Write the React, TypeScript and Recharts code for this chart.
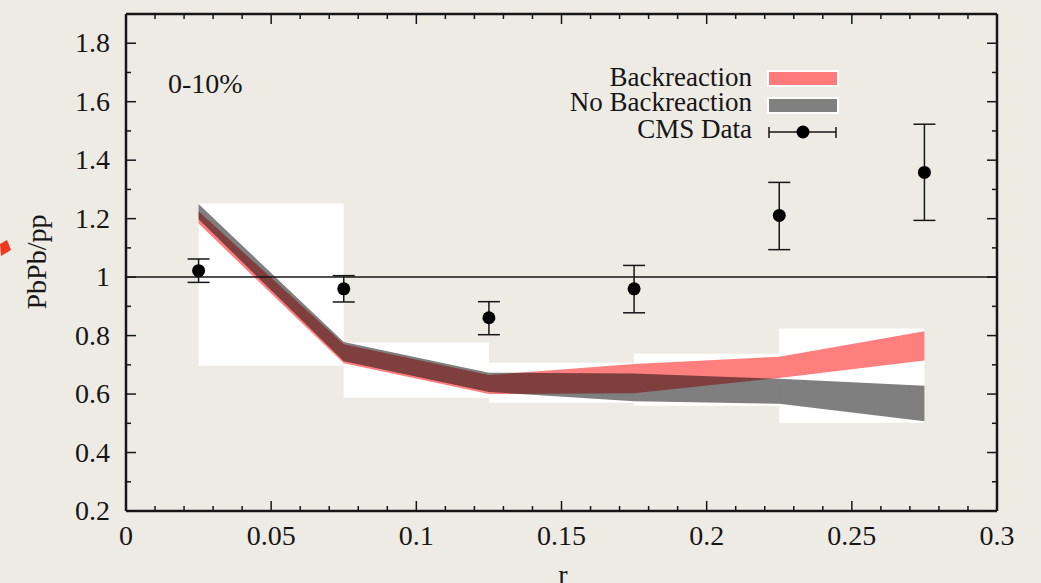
import React from "react";
import { Area, ComposedChart, ErrorBar, ReferenceArea, ReferenceLine, Scatter, XAxis, YAxis } from "recharts";

const radii = [0.025, 0.075, 0.125, 0.175, 0.225, 0.275];
const backLow = [1.183, 0.705, 0.6, 0.603, 0.655, 0.715];
const backHigh = [1.225, 0.77, 0.665, 0.703, 0.728, 0.815];
const noBackLow = [1.198, 0.712, 0.607, 0.575, 0.567, 0.507];
const noBackHigh = [1.25, 0.778, 0.673, 0.67, 0.652, 0.628];
const cmsValue = [1.022, 0.96, 0.861, 0.96, 1.211, 1.358];
const cmsErrDown = [0.04, 0.045, 0.058, 0.082, 0.117, 0.164];
const cmsErrUp = [0.04, 0.045, 0.055, 0.08, 0.113, 0.165];

const boxFrom = [0.025, 0.075, 0.125, 0.175, 0.225];
const boxTo = [0.075, 0.125, 0.175, 0.225, 0.275];
const boxLow = [0.697, 0.587, 0.57, 0.56, 0.502];
const boxHigh = [1.252, 0.776, 0.707, 0.738, 0.824];

const xTicks = [0, 0.01, 0.02, 0.03, 0.04, 0.05, 0.06, 0.07, 0.08, 0.09, 0.1, 0.11, 0.12, 0.13, 0.14, 0.15, 0.16, 0.17, 0.18, 0.19, 0.2, 0.21, 0.22, 0.23, 0.24, 0.25, 0.26, 0.27, 0.28, 0.29, 0.3];
const xLabels = ["0", "0.05", "0.1", "0.15", "0.2", "0.25", "0.3"];
const yTicks = [0.2, 0.3, 0.4, 0.5, 0.6, 0.7, 0.8, 0.9, 1, 1.1, 1.2, 1.3, 1.4, 1.5, 1.6, 1.7, 1.8, 1.9];
const yLabels = ["0.2", "0.4", "0.6", "0.8", "1", "1.2", "1.4", "1.6", "1.8"];

const data = radii.map((r, i) => ({
  r,
  back: [backLow[i], backHigh[i]],
  noBack: [noBackLow[i], noBackHigh[i]],
  cms: cmsValue[i],
  err: [cmsErrDown[i], cmsErrUp[i]],
}));

const W = 1041;
const H = 583;
const LEFT = 126;
const RIGHT = 997;
const TOP = 14;
const BOTTOM = 511;
const FONT = "'Liberation Serif', 'Times New Roman', serif";
const INK = "#161616";

const isMajorX = (v: number) => Math.round(v * 1000) % 50 === 0;
const isMajorY = (v: number) => Math.round(v * 100) % 20 === 0;
const label = (list: string[], v: number) => list.find((s) => Math.abs(parseFloat(s) - v) < 1e-6);

function BottomTick({ x, payload }: any) {
  const v = payload.value;
  const len = isMajorX(v) ? 10 : 5;
  const text = label(xLabels, v);
  return (
    <g>
      <line x1={x} x2={x} y1={BOTTOM} y2={BOTTOM - len} stroke={INK} strokeWidth={1.5} />
      {text ? (
        <text x={x} y={BOTTOM + 34} textAnchor="middle" fontFamily={FONT} fontSize={28} fill={INK}>
          {text}
        </text>
      ) : null}
    </g>
  );
}

function TopTick({ x, payload }: any) {
  const len = isMajorX(payload.value) ? 10 : 5;
  return <line x1={x} x2={x} y1={TOP} y2={TOP + len} stroke={INK} strokeWidth={1.5} />;
}

function LeftTick({ y, payload }: any) {
  const v = payload.value;
  const len = isMajorY(v) ? 10 : 5;
  const text = label(yLabels, v);
  return (
    <g>
      <line x1={LEFT} x2={LEFT + len} y1={y} y2={y} stroke={INK} strokeWidth={1.5} />
      {text ? (
        <text x={LEFT - 16} y={y + 9} textAnchor="end" fontFamily={FONT} fontSize={28} fill={INK}>
          {text}
        </text>
      ) : null}
    </g>
  );
}

function RightTick({ y, payload }: any) {
  const len = isMajorY(payload.value) ? 10 : 5;
  return <line x1={RIGHT} x2={RIGHT - len} y1={y} y2={y} stroke={INK} strokeWidth={1.5} />;
}

const Dot = (props: any) => <circle cx={props.cx} cy={props.cy} r={6.5} fill="#000" />;

export default function App() {
  return (
    <div style={{ position: "absolute", left: 0, top: 0, width: W, height: H, background: "#eeebe5", overflow: "hidden" }}>
      <ComposedChart width={W} height={H} data={data} margin={{ top: TOP - 1, right: W - RIGHT - 1, bottom: 0, left: 0 }}>
        <XAxis xAxisId="b" type="number" dataKey="r" domain={[0, 0.3]} ticks={xTicks} interval={0} height={H - BOTTOM} axisLine={{ stroke: INK, strokeWidth: 2.5 }} tickLine={false} tick={<BottomTick />} allowDataOverflow />
        <XAxis xAxisId="t" orientation="top" type="number" dataKey="r" domain={[0, 0.3]} ticks={xTicks} interval={0} height={1} axisLine={{ stroke: INK, strokeWidth: 2.5 }} tickLine={false} tick={<TopTick />} allowDataOverflow />
        <YAxis yAxisId="l" type="number" domain={[0.2, 1.9]} ticks={yTicks} interval={0} width={LEFT} axisLine={{ stroke: INK, strokeWidth: 2.5 }} tickLine={false} tick={<LeftTick />} allowDataOverflow />
        <YAxis yAxisId="r" orientation="right" type="number" domain={[0.2, 1.9]} ticks={yTicks} interval={0} width={1} axisLine={{ stroke: INK, strokeWidth: 2.5 }} tickLine={false} tick={<RightTick />} allowDataOverflow />
        {boxFrom.map((x1, i) => (
          <ReferenceArea key={i} xAxisId="b" yAxisId="l" x1={x1} x2={boxTo[i]} y1={boxLow[i]} y2={boxHigh[i]} fill="#ffffff" fillOpacity={1} stroke="none" />
        ))}
        <ReferenceLine xAxisId="b" yAxisId="l" y={1} stroke={INK} strokeWidth={1.5} />
        <Area xAxisId="b" yAxisId="l" type="linear" dataKey="back" fill="#ff0000" fillOpacity={0.5} stroke="none" isAnimationActive={false} />
        <Area xAxisId="b" yAxisId="l" type="linear" dataKey="noBack" fill="#000000" fillOpacity={0.5} stroke="none" isAnimationActive={false} />
        <Scatter xAxisId="b" yAxisId="l" dataKey="cms" shape={<Dot />} isAnimationActive={false}>
          <ErrorBar dataKey="err" direction="y" width={11} stroke={INK} strokeWidth={1.5} />
        </Scatter>
      </ComposedChart>
      <svg width={W} height={H} style={{ position: "absolute", left: 0, top: 0, pointerEvents: "none" }}>
        <polygon points="0,244 7,240 11,250 1,256" fill="#f0391c" />
        <text x={168} y={93} fontFamily={FONT} fontSize={28} fill={INK}>0-10%</text>
        <text transform="translate(46,262) rotate(-90)" textAnchor="middle" fontFamily={FONT} fontSize={28} fill={INK}>PbPb/pp</text>
        <text x={563} y={584} textAnchor="middle" fontFamily={FONT} fontSize={28} fill={INK}>r</text>
        <text x={752} y={86} textAnchor="end" fontFamily={FONT} fontSize={27} fill={INK}>Backreaction</text>
        <rect x={768} y={71} width={70} height={15} fill="#ff7b7b" stroke="#ffffff" strokeWidth={2} />
        <text x={752} y={111} textAnchor="end" fontFamily={FONT} fontSize={27} fill={INK}>No Backreaction</text>
        <rect x={768} y={98} width={70} height={15} fill="#808080" stroke="#ffffff" strokeWidth={2} />
        <text x={752} y={138} textAnchor="end" fontFamily={FONT} fontSize={27} fill={INK}>CMS Data</text>
        <line x1={769} x2={836} y1={132} y2={132} stroke={INK} strokeWidth={1.5} />
        <line x1={769} x2={769} y1={127} y2={138} stroke={INK} strokeWidth={1.5} />
        <line x1={836} x2={836} y1={127} y2={138} stroke={INK} strokeWidth={1.5} />
        <circle cx={803} cy={132} r={6.5} fill="#000" />
      </svg>
    </div>
  );
}
